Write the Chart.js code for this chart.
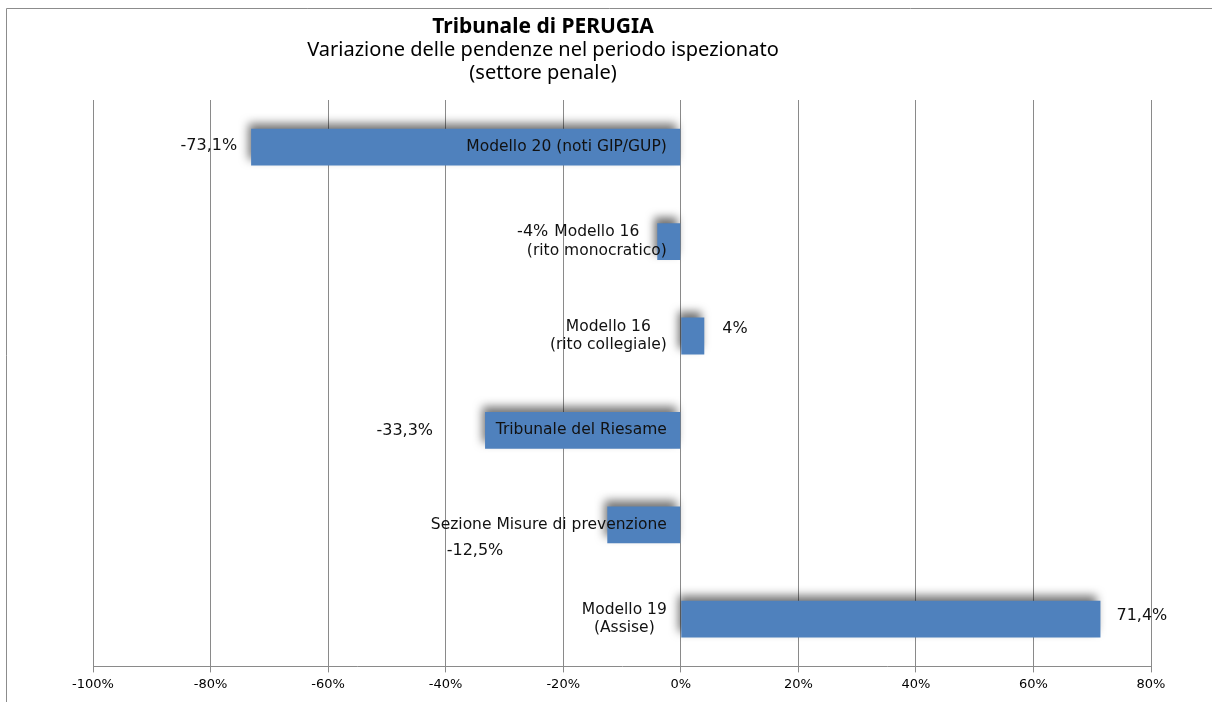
<!DOCTYPE html>
<html>
<head>
<meta charset="utf-8">
<script src="https://cdn.jsdelivr.net/npm/chart.js@4.4.1/dist/chart.umd.min.js"></script>
<style>
html, body { margin: 0; padding: 0; background: #fff; }
</style>
</head>
<body>
<canvas id="myChart" width="1212" height="702"></canvas>
<script>
const categories = [
    ['Modello 20 (noti GIP/GUP)'],
    ['Modello 16', '(rito monocratico)'],
    ['Modello 16', '(rito collegiale)'],
    ['Tribunale del Riesame'],
    ['Sezione Misure di prevenzione'],
    ['Modello 19', '(Assise)']
];
const values = [-73.1, -4, 4, -33.3, -12.5, 71.4];
const valueLabels = ['-73,1%', '-4%', '4%', '-33,3%', '-12,5%', '71,4%'];
const titleLines = ['Tribunale di PERUGIA', 'Variazione delle pendenze nel periodo ispezionato', '(settore penale)'];

// where the value labels sit, relative to the end of each bar (px)
const labelDx = [-14, -109, 18, -52, -104, 16];
const labelDy = [-1, -10, -7, 0, 26, -3];

const FONT = '"DejaVu Sans", Verdana, sans-serif';

const frame = {
    id: 'frame',
    beforeDraw(chart) {
        const c = chart.ctx;
        c.save();
        c.fillStyle = '#fff';
        c.fillRect(0, 0, chart.width, chart.height);
        c.strokeStyle = '#8c8c8c';
        c.lineWidth = 1;
        c.beginPath();
        c.moveTo(6.5, chart.height);
        c.lineTo(6.5, 8.5);
        c.lineTo(chart.width, 8.5);
        c.stroke();
        c.restore();
    }
};

const heading = {
    id: 'heading',
    afterDraw(chart) {
        const c = chart.ctx;
        c.save();
        c.fillStyle = '#000';
        c.textAlign = 'center';
        c.textBaseline = 'middle';
        c.font = 'bold 21px "Noto Sans", sans-serif';
        c.fillText(titleLines[0], 543, 27);
        c.font = '20px "Noto Sans", sans-serif';
        c.fillText(titleLines[1], 543, 50);
        c.fillText(titleLines[2], 543, 73);
        c.restore();
    }
};

const shadow = {
    id: 'shadow',
    beforeDatasetDraw(chart) {
        const c = chart.ctx;
        c.save();
        c.shadowColor = 'rgba(0,0,0,0.55)';
        c.shadowBlur = 9;
        c.shadowOffsetX = -3;
        c.shadowOffsetY = -6;
    },
    afterDatasetDraw(chart) {
        chart.ctx.restore();
    }
};

const barText = {
    id: 'barText',
    afterDatasetsDraw(chart) {
        const c = chart.ctx;
        const xs = chart.scales.x;
        const zero = xs.getPixelForValue(0);
        const bars = chart.getDatasetMeta(0).data;
        c.save();
        c.fillStyle = '#111';
        c.textBaseline = 'middle';
        bars.forEach((bar, i) => {
            // category name, block right-aligned just left of zero
            c.font = '15.5px ' + FONT;
            const lines = categories[i];
            const lh = 18.5;
            const w = Math.max(...lines.map(l => c.measureText(l).width));
            const right = zero - 14;
            c.textAlign = 'center';
            lines.forEach((l, k) => {
                c.fillText(l, right - w / 2, bar.y + (k - (lines.length - 1) / 2) * lh);
            });
            // value
            c.font = '16px ' + FONT;
            c.textAlign = values[i] < 0 ? 'right' : 'left';
            c.fillText(valueLabels[i], bar.x + labelDx[i], bar.y + labelDy[i]);
        });
        c.restore();
    }
};

const ctx = document.getElementById('myChart').getContext('2d');

const chart = new Chart(ctx, {
    type: 'bar',
    data: {
        labels: categories.map(l => l.join(' ')),
        datasets: [{
            data: values,
            backgroundColor: '#4F81BD',
            borderWidth: 0,
            barPercentage: 0.39,
            categoryPercentage: 1
        }]
    },
    plugins: [frame, shadow, barText, heading],
    options: {
        indexAxis: 'y',
        responsive: false,
        animation: false,
        events: [],
        layout: {
            padding: { left: 93, right: 61, top: 100, bottom: 6 }
        },
        plugins: {
            legend: { display: false },
            tooltip: { enabled: false },
            title: { display: false }
        },
        scales: {
            x: {
                min: -100,
                max: 80,
                grid: {
                    color: '#8a8a8a',
                    tickLength: 6,
                    lineWidth: 1
                },
                border: { color: '#8a8a8a' },
                ticks: {
                    stepSize: 20,
                    color: '#000',
                    padding: 4,
                    font: { family: FONT, size: 13 },
                    callback: v => v + '%'
                }
            },
            y: {
                display: false
            }
        }
    }
});
</script>
</body>
</html>
